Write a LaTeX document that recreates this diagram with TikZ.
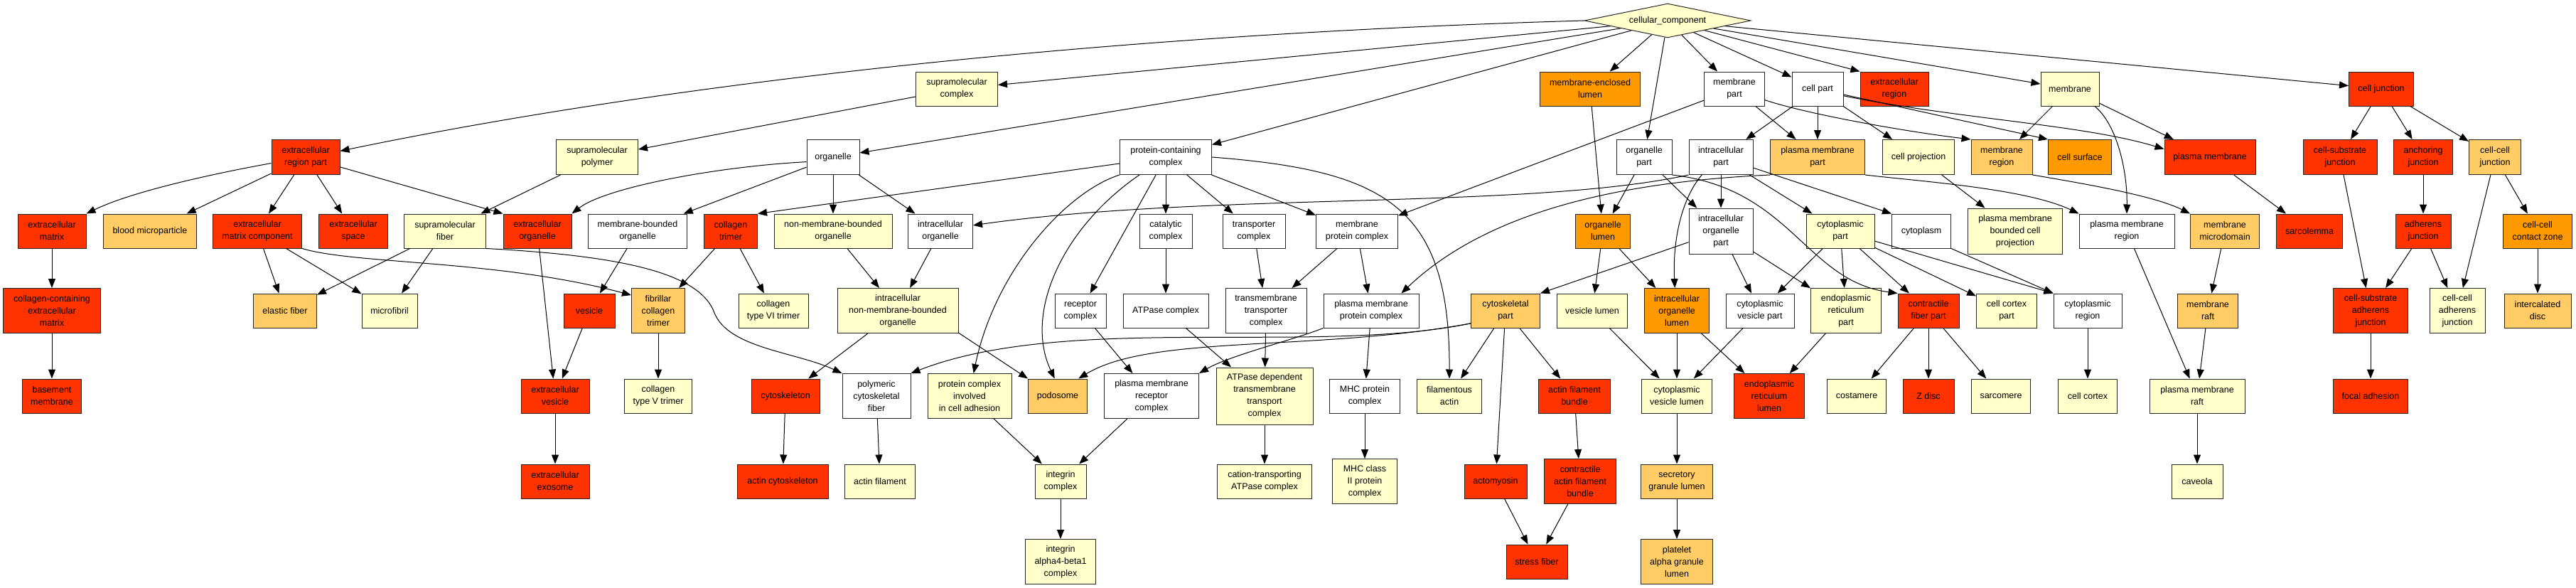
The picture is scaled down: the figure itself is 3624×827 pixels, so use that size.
\documentclass[tikz,border=0pt]{standalone}
\usepackage{fontspec}
\setmainfont{Liberation Sans}
\usetikzlibrary{arrows.meta,shapes.geometric}
\definecolor{gored}{HTML}{FF3300}
\definecolor{goorange}{HTML}{FF9900}
\definecolor{golight}{HTML}{FFCC66}
\definecolor{goyellow}{HTML}{FFFFCC}
\tikzset{
  gobox/.style={draw=black!85, line width=1pt, rectangle, inner sep=0pt, align=center, font=\fontsize{12.5}{17}\selectfont},
  goedge/.style={-{Triangle[length=13pt,width=10pt]}, line width=1pt, draw=black},
}
\newcommand{\gonode}[7]{\node[gobox, fill=#6, minimum width=#4pt, minimum height=#5pt] (#1) at (#2,#3) {#7};}
\begin{document}
\begin{tikzpicture}[x=1pt,y=-1pt]
\fill[white] (0,0) rectangle (3624,827);
\useasboundingbox (0,0) rectangle (3624,827);
% row 0
\node[diamond, draw=black!85, fill=goyellow, line width=1pt, aspect=5, inner sep=0pt, minimum width=234pt, minimum height=48pt, font=\fontsize{12.5}{17}\selectfont] (cc) at (2346,29) {cellular\_component};
% row 1
\gonode{smc}{1346}{125}{115}{48}{goyellow}{supramolecular\\complex}
\gonode{mel}{2237}{125}{141}{48}{goorange}{membrane-enclosed\\lumen}
\gonode{mempart}{2440}{125}{85}{48}{white}{membrane\\part}
\gonode{cellpart}{2557}{125}{72}{48}{white}{cell part}
\gonode{exreg}{2665}{125}{96}{48}{gored}{extracellular\\region}
\gonode{membrane}{2912}{125}{82}{48}{goyellow}{membrane}
\gonode{celljunc}{3350}{125}{91}{48}{gored}{cell junction}
% row 2
\gonode{erp}{430}{221}{96}{49}{gored}{extracellular\\region part}
\gonode{smp}{840}{221}{115}{49}{goyellow}{supramolecular\\polymer}
\gonode{organelle}{1172}{221}{74}{49}{white}{organelle}
\gonode{pcc}{1640}{221}{129}{49}{white}{protein-containing\\complex}
\gonode{orgpart}{2313}{221}{78}{49}{white}{organelle\\part}
\gonode{icpart}{2421}{221}{90}{49}{white}{intracellular\\part}
\gonode{pmp}{2557}{221}{133}{49}{golight}{plasma membrane\\part}
\gonode{cellproj}{2699}{221}{101}{49}{goyellow}{cell projection}
\gonode{memreg}{2816}{221}{86}{49}{golight}{membrane\\region}
\gonode{cellsurf}{2926}{221}{89}{49}{goorange}{cell surface}
\gonode{pm}{3109}{221}{128}{49}{gored}{plasma membrane}
\gonode{csj}{3292}{221}{104}{49}{gored}{cell-substrate\\junction}
\gonode{anj}{3409}{221}{83}{49}{gored}{anchoring\\junction}
\gonode{ccj}{3510}{221}{73}{49}{golight}{cell-cell\\junction}
% row 3
\gonode{ecm}{73}{325}{96}{48}{gored}{extracellular\\matrix}
\gonode{bmp}{211}{325}{131}{48}{golight}{blood microparticle}
\gonode{ecmc}{362}{325}{125}{48}{gored}{extracellular\\matrix component}
\gonode{exspace}{497}{325}{97}{48}{gored}{extracellular\\space}
\gonode{smf}{626}{325}{115}{48}{goyellow}{supramolecular\\fiber}
\gonode{exorg}{756}{325}{96}{48}{gored}{extracellular\\organelle}
\gonode{mbo}{897}{325}{139}{48}{white}{membrane-bounded\\organelle}
\gonode{ct}{1028}{325}{75}{48}{gored}{collagen\\trimer}
\gonode{nmbo}{1172}{325}{166}{48}{goyellow}{non-membrane-bounded\\organelle}
\gonode{io}{1323}{325}{91}{48}{white}{intracellular\\organelle}
\gonode{catc}{1640}{325}{74}{48}{white}{catalytic\\complex}
\gonode{trc}{1764}{325}{88}{48}{white}{transporter\\complex}
\gonode{mpc}{1909}{325}{115}{48}{white}{membrane\\protein complex}
\gonode{ol}{2255}{325}{77}{48}{goorange}{organelle\\lumen}
\gonode{iop}{2421}{325}{90}{64}{white}{intracellular\\organelle\\part}
\gonode{cyp}{2589}{325}{96}{48}{goyellow}{cytoplasmic\\part}
\gonode{cytoplasm}{2703}{325}{83}{48}{white}{cytoplasm}
\gonode{pmbcp}{2835}{325}{133}{64}{goyellow}{plasma membrane\\bounded cell\\projection}
\gonode{pmr}{2992}{325}{134}{48}{white}{plasma membrane\\region}
\gonode{mmd}{3130}{325}{97}{48}{golight}{membrane\\microdomain}
\gonode{sarco}{3249}{325}{93}{48}{gored}{sarcolemma}
\gonode{adj}{3409}{325}{78}{48}{gored}{adherens\\junction}
\gonode{cccz}{3570}{325}{97}{48}{goorange}{cell-cell\\contact zone}
% row 4
\gonode{ccecm}{73}{437}{137}{63}{gored}{collagen-containing\\extracellular\\matrix}
\gonode{elastic}{401}{437}{89}{48}{golight}{elastic fiber}
\gonode{microfibril}{548}{437}{78}{48}{goyellow}{microfibril}
\gonode{vesicle}{829}{437}{72}{48}{gored}{vesicle}
\gonode{fct}{926}{437}{75}{63}{golight}{fibrillar\\collagen\\trimer}
\gonode{ct6}{1088}{437}{98}{48}{goyellow}{collagen\\type VI trimer}
\gonode{inmbo}{1263}{437}{170}{63}{goyellow}{intracellular\\non-membrane-bounded\\organelle}
\gonode{recc}{1520}{437}{72}{48}{white}{receptor\\complex}
\gonode{atpc}{1640}{437}{120}{48}{white}{ATPase complex}
\gonode{tmtc}{1781}{437}{114}{63}{white}{transmembrane\\transporter\\complex}
\gonode{pmpc}{1929}{437}{134}{48}{white}{plasma membrane\\protein complex}
\gonode{cskp}{2118}{437}{97}{48}{golight}{cytoskeletal\\part}
\gonode{vl}{2240}{437}{99}{48}{goyellow}{vesicle lumen}
\gonode{iol}{2359}{437}{91}{63}{goorange}{intracellular\\organelle\\lumen}
\gonode{cvp}{2476}{437}{96}{48}{white}{cytoplasmic\\vesicle part}
\gonode{erpart}{2597}{437}{99}{63}{goyellow}{endoplasmic\\reticulum\\part}
\gonode{cfp}{2713}{437}{86}{48}{gored}{contractile\\fiber part}
\gonode{ccp}{2823}{437}{85}{48}{goyellow}{cell cortex\\part}
\gonode{cyreg}{2937}{437}{96}{48}{white}{cytoplasmic\\region}
\gonode{mraft}{3106}{437}{85}{48}{golight}{membrane\\raft}
\gonode{csaj}{3335}{437}{105}{63}{gored}{cell-substrate\\adherens\\junction}
\gonode{ccaj}{3457}{437}{78}{63}{goyellow}{cell-cell\\adherens\\junction}
\gonode{idisc}{3570}{437}{94}{48}{golight}{intercalated\\disc}
% row 5
\gonode{bm}{73}{557}{83}{48}{gored}{basement\\membrane}
\gonode{exves}{781}{557}{96}{48}{gored}{extracellular\\vesicle}
\gonode{ct5}{926}{557}{95}{48}{goyellow}{collagen\\type V trimer}
\gonode{csk}{1105}{557}{96}{48}{gored}{cytoskeleton}
\gonode{pcf}{1233}{557}{96}{63}{white}{polymeric\\cytoskeletal\\fiber}
\gonode{pcia}{1364}{557}{118}{63}{goyellow}{protein complex\\involved\\in cell adhesion}
\gonode{podo}{1488}{557}{83}{48}{golight}{podosome}
\gonode{pmrc}{1620}{557}{133}{63}{white}{plasma membrane\\receptor\\complex}
\gonode{atpdep}{1779}{557}{136}{80}{goyellow}{ATPase dependent\\transmembrane\\transport\\complex}
\gonode{mhc}{1920}{557}{99}{48}{white}{MHC protein\\complex}
\gonode{fa}{2039}{557}{91}{48}{goyellow}{filamentous\\actin}
\gonode{afb}{2215}{557}{101}{48}{gored}{actin filament\\bundle}
\gonode{cvl}{2359}{557}{99}{48}{goyellow}{cytoplasmic\\vesicle lumen}
\gonode{erl}{2489}{557}{99}{63}{gored}{endoplasmic\\reticulum\\lumen}
\gonode{costa}{2612}{557}{83}{48}{goyellow}{costamere}
\gonode{zdisc}{2713}{557}{72}{48}{gored}{Z disc}
\gonode{sarcomere}{2815}{557}{83}{48}{goyellow}{sarcomere}
\gonode{cortex}{2937}{557}{83}{48}{goyellow}{cell cortex}
\gonode{pmraft}{3091}{557}{134}{48}{goyellow}{plasma membrane\\raft}
\gonode{focal}{3335}{557}{105}{48}{gored}{focal adhesion}
% row 6
\gonode{exo}{781}{677}{96}{48}{gored}{extracellular\\exosome}
\gonode{actcsk}{1101}{677}{128}{48}{gored}{actin cytoskeleton}
\gonode{actfil}{1238}{677}{99}{48}{goyellow}{actin filament}
\gonode{intc}{1492}{677}{72}{48}{goyellow}{integrin\\complex}
\gonode{cation}{1779}{677}{133}{48}{goyellow}{cation-transporting\\ATPase complex}
\gonode{mhc2}{1920}{677}{91}{63}{goyellow}{MHC class\\II protein\\complex}
\gonode{actomyosin}{2104}{677}{88}{48}{gored}{actomyosin}
\gonode{cafb}{2223}{677}{101}{63}{gored}{contractile\\actin filament\\bundle}
\gonode{sgl}{2359}{677}{101}{48}{golight}{secretory\\granule lumen}
\gonode{caveola}{3091}{677}{72}{48}{goyellow}{caveola}
% row 7
\gonode{a4b1}{1492}{790}{99}{63}{goyellow}{integrin\\alpha4-beta1\\complex}
\gonode{stress}{2162}{790}{86}{48}{gored}{stress fiber}
\gonode{platelet}{2359}{790}{101}{63}{golight}{platelet\\alpha granule\\lumen}
% ---------- edges ----------
% from cellular_component
\draw[goedge] (cc.west) .. controls (1500,50) and (900,125) .. (erp.10);
\draw[goedge] (cc) -- (smc);
\draw[goedge] (cc) -- (organelle);
\draw[goedge] (cc) -- (pcc);
\draw[goedge] (cc) -- (mel);
\draw[goedge] (cc) -- (orgpart);
\draw[goedge] (cc) -- (mempart);
\draw[goedge] (cc) -- (cellpart);
\draw[goedge] (cc) -- (exreg.north west);
\draw[goedge] (cc) -- (membrane);
\draw[goedge] (cc) -- (celljunc);
% supramolecular
\draw[goedge] (smc) -- (smp);
\draw[goedge] (smp) -- (smf);
% extracellular region part
\draw[goedge] (erp.190) .. controls (280,248) and (180,272) .. (ecm.north east);
\draw[goedge] (erp) -- (bmp);
\draw[goedge] (erp) -- (ecmc);
\draw[goedge] (erp) -- (exspace);
\draw[goedge] (erp) -- (exorg.north west);
\draw[goedge] (ecm) -- (ccecm);
\draw[goedge] (ccecm) -- (bm);
\draw[goedge] (ecmc) -- (elastic);
\draw[goedge] (ecmc) -- (microfibril);
\draw[goedge] (ecmc.south east) .. controls (500,372) and (700,365) .. (fct.150);
\draw[goedge] (smf) -- (elastic);
\draw[goedge] (smf) -- (microfibril);
\draw[goedge] (smf.south east) .. controls (880,360) and (985,385) .. (1005,440) .. controls (1025,490) and (1120,495) .. (pcf.north west);
% organelle
\draw[goedge] (organelle.190) .. controls (1000,235) and (850,265) .. (exorg.north east);
\draw[goedge] (organelle) -- (mbo);
\draw[goedge] (organelle) -- (nmbo);
\draw[goedge] (organelle) -- (io);
% protein-containing complex
\draw[goedge] (pcc) -- (ct.north east);
\draw[goedge] (pcc.south west) .. controls (1500,270) and (1400,380) .. (pcia.80);
\draw[goedge] (pcc.-146) .. controls (1495,320) and (1440,440) .. (podo.100);
\draw[goedge] (pcc) -- (recc);
\draw[goedge] (pcc) -- (catc);
\draw[goedge] (pcc) -- (trc);
\draw[goedge] (pcc) -- (mpc);
\draw[goedge] (pcc.east) .. controls (1950,240) and (2040,290) .. (fa.north);
% membrane part
\draw[goedge] (mempart) -- (mpc);
\draw[goedge] (mempart) -- (pmp);
\draw[goedge] (mempart.-20) .. controls (2540,160) and (2680,185) .. (memreg.north west);
% cell part
\draw[goedge] (cellpart) -- (icpart);
\draw[goedge] (cellpart) -- (pmp);
\draw[goedge] (cellpart) -- (cellproj);
\draw[goedge] (cellpart) -- (cellsurf.north west);
\draw[goedge] (cellpart.-15) .. controls (2760,168) and (2930,175) .. (pm.170);
% membrane
\draw[goedge] (membrane) -- (memreg);
\draw[goedge] (membrane.-35) .. controls (2978,175) and (2993,240) .. (pmr.north);
\draw[goedge] (membrane) -- (pm);
% intracellular part
\draw[goedge] (icpart) -- (iop);
\draw[goedge] (icpart) -- (cyp);
\draw[goedge] (icpart) -- (cytoplasm.north west);
\draw[goedge] (icpart.south west) .. controls (2150,295) and (1700,270) .. (io.10);
\draw[goedge] (icpart.-137) .. controls (2365,280) and (2353,340) .. (iol.95);
% organelle part
\draw[goedge] (orgpart) -- (ol);
\draw[goedge] (orgpart) -- (iop);
\draw[goedge] (orgpart.south east) .. controls (2520,265) and (2540,395) .. (cfp.north west);
\draw[goedge] (mel) -- (ol);
% plasma membrane part
\draw[goedge] (pmp.south east) .. controls (2700,255) and (2850,265) .. (pmr.north west);
\draw[goedge] (pmp.south west) .. controls (2300,255) and (2100,290) .. (pmpc.30);
\draw[goedge] (cellproj) -- (pmbcp);
\draw[goedge] (memreg.south east) .. controls (2930,258) and (3030,275) .. (mmd.north west);
\draw[goedge] (pm) -- (sarco);
% cell junction
\draw[goedge] (celljunc) -- (csj);
\draw[goedge] (celljunc) -- (anj);
\draw[goedge] (celljunc) -- (ccj);
\draw[goedge] (csj) -- (csaj);
\draw[goedge] (anj) -- (adj);
\draw[goedge] (adj) -- (csaj);
\draw[goedge] (adj) -- (ccaj);
\draw[goedge] (ccj) -- (ccaj);
\draw[goedge] (ccj) -- (cccz);
\draw[goedge] (cccz) -- (idisc);
\draw[goedge] (csaj) -- (focal);
% complexes
\draw[goedge] (mpc) -- (tmtc);
\draw[goedge] (mpc) -- (pmpc);
\draw[goedge] (trc) -- (tmtc);
\draw[goedge] (catc) -- (atpc);
\draw[goedge] (atpc) -- (atpdep);
\draw[goedge] (tmtc) -- (atpdep);
\draw[goedge] (atpdep) -- (cation);
\draw[goedge] (recc) -- (pmrc);
\draw[goedge] (pmpc.south west) .. controls (1820,478) and (1730,500) .. (pmrc.north east);
\draw[goedge] (pmpc) -- (mhc);
\draw[goedge] (mhc) -- (mhc2);
\draw[goedge] (pmrc) -- (intc);
\draw[goedge] (pcia) -- (intc);
\draw[goedge] (intc) -- (a4b1);
% cytoskeleton
\draw[goedge] (cskp.200) .. controls (1850,500) and (1500,440) .. (pcf.north east);
\draw[goedge] (cskp.200) .. controls (1850,495) and (1620,470) .. (podo.40);
\draw[goedge] (inmbo.-20) -- (podo.north west);
\draw[goedge] (inmbo) -- (csk);
\draw[goedge] (nmbo) -- (inmbo);
\draw[goedge] (io) -- (inmbo);
\draw[goedge] (csk) -- (actcsk);
\draw[goedge] (pcf) -- (actfil);
\draw[goedge] (cskp) -- (fa);
\draw[goedge] (cskp) -- (actomyosin);
\draw[goedge] (cskp) -- (afb);
\draw[goedge] (afb) -- (cafb);
\draw[goedge] (actomyosin) -- (stress);
\draw[goedge] (cafb) -- (stress);
% lumens and cytoplasm
\draw[goedge] (ol) -- (vl);
\draw[goedge] (ol) -- (iol);
\draw[goedge] (iop) -- (cskp.north east);
\draw[goedge] (iop) -- (cvp);
\draw[goedge] (iop) -- (erpart);
\draw[goedge] (cyp) -- (cvp);
\draw[goedge] (cyp) -- (erpart);
\draw[goedge] (cyp) -- (cfp);
\draw[goedge] (cyp) -- (ccp);
\draw[goedge] (cyp) -- (cyreg.north west);
\draw[goedge] (cytoplasm.south east) -- (cyreg.north west);
\draw[goedge] (cfp) -- (costa);
\draw[goedge] (cfp) -- (zdisc);
\draw[goedge] (cfp) -- (sarcomere);
\draw[goedge] (cyreg) -- (cortex);
\draw[goedge] (vl) -- (cvl);
\draw[goedge] (iol) -- (cvl);
\draw[goedge] (cvp) -- (cvl);
\draw[goedge] (iol) -- (erl);
\draw[goedge] (erpart) -- (erl);
\draw[goedge] (cvl) -- (sgl);
\draw[goedge] (sgl) -- (platelet);
% vesicles and collagen
\draw[goedge] (mbo) -- (vesicle);
\draw[goedge] (vesicle) -- (exves);
\draw[goedge] (exorg) -- (exves);
\draw[goedge] (exves) -- (exo);
\draw[goedge] (ct) -- (fct);
\draw[goedge] (ct) -- (ct6);
\draw[goedge] (fct) -- (ct5);
% membrane rafts
\draw[goedge] (pmr) -- (pmraft);
\draw[goedge] (mmd) -- (mraft);
\draw[goedge] (mraft) -- (pmraft);
\draw[goedge] (pmraft) -- (caveola);
\end{tikzpicture}
\end{document}
